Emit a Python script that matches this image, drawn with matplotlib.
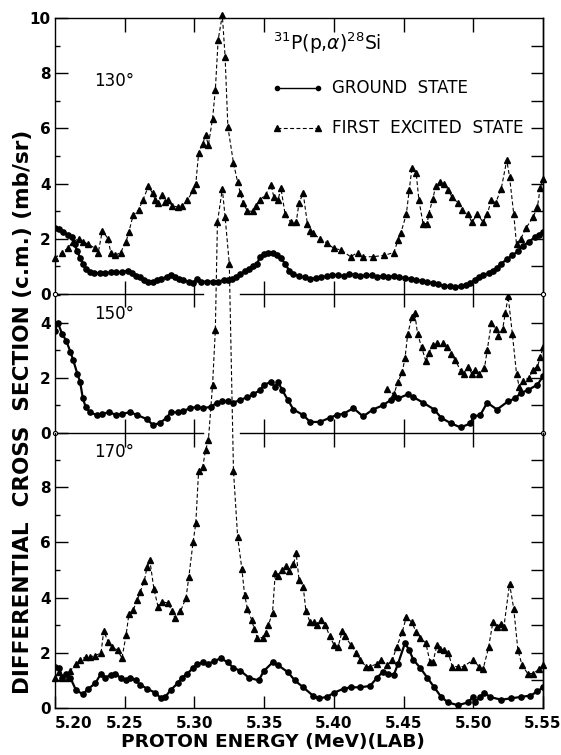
import matplotlib
matplotlib.use('Agg')
import matplotlib.pyplot as plt

# ---------------- data ----------------
# 130 deg
e130_gs = [5.200, 5.203, 5.206, 5.209, 5.212, 5.214, 5.216, 5.218, 5.220, 5.222, 5.225, 5.228, 5.232, 5.236,
           5.240, 5.244, 5.248, 5.252, 5.255, 5.258, 5.261, 5.264, 5.267, 5.270, 5.273, 5.276, 5.280, 5.283,
           5.286, 5.289, 5.292, 5.296, 5.299, 5.302, 5.305, 5.309, 5.313, 5.317, 5.321, 5.324, 5.327, 5.330,
           5.333, 5.336, 5.339, 5.342, 5.345, 5.347, 5.350, 5.353, 5.356, 5.359, 5.362, 5.365, 5.368, 5.371,
           5.375, 5.379, 5.383, 5.387, 5.391, 5.395, 5.399, 5.403, 5.407, 5.411, 5.415, 5.419, 5.423, 5.427,
           5.431, 5.435, 5.439, 5.443, 5.447, 5.451, 5.455, 5.459, 5.463, 5.467, 5.471, 5.475, 5.479, 5.483,
           5.487, 5.491, 5.495, 5.498, 5.501, 5.504, 5.507, 5.511, 5.514, 5.517, 5.520, 5.524, 5.528, 5.532,
           5.536, 5.540, 5.544, 5.547, 5.550]
s130_gs = [2.40, 2.35, 2.25, 2.15, 2.05, 1.80, 1.55, 1.30, 1.10, 0.90, 0.80, 0.75, 0.75, 0.75,
           0.78, 0.80, 0.78, 0.85, 0.75, 0.65, 0.60, 0.50, 0.45, 0.45, 0.50, 0.55, 0.62, 0.70,
           0.60, 0.55, 0.50, 0.45, 0.40, 0.55, 0.45, 0.45, 0.45, 0.45, 0.50, 0.50, 0.55, 0.62,
           0.72, 0.82, 0.92, 1.00, 1.10, 1.35, 1.45, 1.50, 1.50, 1.40, 1.30, 1.10, 0.85, 0.72,
           0.65, 0.60, 0.55, 0.57, 0.60, 0.65, 0.70, 0.68, 0.65, 0.72, 0.70, 0.65, 0.68, 0.68,
           0.62, 0.65, 0.62, 0.65, 0.60, 0.58, 0.55, 0.50, 0.48, 0.42, 0.40, 0.35, 0.30, 0.28,
           0.25, 0.28, 0.32, 0.40, 0.50, 0.60, 0.70, 0.75, 0.85, 0.95, 1.10, 1.25, 1.40, 1.55,
           1.75, 1.90, 2.05, 2.15, 2.25]

e130_ex = [5.200, 5.205, 5.209, 5.213, 5.217, 5.220, 5.224, 5.229, 5.231, 5.234, 5.238, 5.240, 5.243, 5.247,
           5.251, 5.253, 5.256, 5.260, 5.263, 5.267, 5.270, 5.272, 5.274, 5.277, 5.279, 5.281, 5.284, 5.288,
           5.291, 5.295, 5.299, 5.301, 5.303, 5.306, 5.308, 5.310, 5.313, 5.315, 5.317, 5.320, 5.322, 5.324,
           5.328, 5.331, 5.333, 5.335, 5.338, 5.342, 5.344, 5.347, 5.351, 5.355, 5.357, 5.360, 5.362, 5.365,
           5.369, 5.373, 5.375, 5.378, 5.381, 5.383, 5.385, 5.390, 5.395, 5.400, 5.405, 5.412, 5.417, 5.421,
           5.428, 5.436, 5.443, 5.446, 5.448, 5.452, 5.454, 5.456, 5.459, 5.461, 5.464, 5.467, 5.468, 5.471,
           5.473, 5.476, 5.479, 5.482, 5.485, 5.489, 5.492, 5.496, 5.499, 5.503, 5.507, 5.510, 5.513, 5.516,
           5.520, 5.524, 5.526, 5.529, 5.531, 5.534, 5.538, 5.543, 5.546, 5.548, 5.550]
s130_ex = [1.30, 1.50, 1.65, 1.90, 2.00, 1.90, 1.80, 1.65, 1.50, 2.30, 2.00, 1.50, 1.40, 1.50,
           1.90, 2.25, 2.85, 3.05, 3.40, 3.90, 3.65, 3.40, 3.30, 3.60, 3.35, 3.40, 3.20, 3.15,
           3.20, 3.40, 3.75, 4.00, 5.10, 5.45, 5.75, 5.40, 6.35, 7.40, 9.20, 10.10, 8.60, 6.05,
           4.75, 4.05, 3.65, 3.30, 3.00, 3.00, 3.20, 3.40, 3.60, 3.95, 3.50, 3.40, 3.85, 2.90,
           2.60, 2.60, 3.30, 3.65, 2.55, 2.30, 2.20, 2.00, 1.85, 1.65, 1.60, 1.35, 1.50, 1.35,
           1.35, 1.40, 1.50, 1.95, 2.20, 2.90, 3.75, 4.55, 4.40, 3.40, 2.55, 2.55, 2.90, 3.45,
           3.90, 4.05, 4.00, 3.75, 3.50, 3.30, 3.05, 2.90, 2.60, 2.90, 2.60, 2.90, 3.40, 3.30,
           3.80, 4.85, 4.25, 2.90, 1.80, 2.00, 2.40, 2.80, 3.15, 3.85, 4.15]

# 150 deg
e150_gs = [5.200, 5.202, 5.205, 5.208, 5.211, 5.213, 5.216, 5.218, 5.220, 5.222, 5.225, 5.230, 5.234, 5.239,
           5.244, 5.248, 5.254, 5.259, 5.266, 5.270, 5.275, 5.280, 5.283, 5.288, 5.292, 5.297, 5.302, 5.306,
           5.312, 5.316, 5.320, 5.324, 5.328, 5.333, 5.338, 5.342, 5.347, 5.350, 5.355, 5.358, 5.360, 5.363,
           5.367, 5.371, 5.378, 5.383, 5.390, 5.397, 5.402, 5.407, 5.414, 5.421, 5.428, 5.435, 5.441, 5.446,
           5.453, 5.457, 5.464, 5.472, 5.477, 5.484, 5.491, 5.498, 5.500, 5.505, 5.510, 5.517, 5.525, 5.530,
           5.534, 5.539, 5.546, 5.550]
s150_gs = [3.70, 4.00, 3.60, 3.35, 2.95, 2.65, 2.15, 1.85, 1.25, 0.95, 0.75, 0.65, 0.70, 0.75,
           0.65, 0.70, 0.75, 0.65, 0.50, 0.30, 0.35, 0.55, 0.75, 0.75, 0.80, 0.90, 0.95, 0.90,
           0.95, 1.10, 1.15, 1.15, 1.10, 1.20, 1.30, 1.40, 1.55, 1.75, 1.85, 1.65, 1.85, 1.55,
           1.20, 0.85, 0.65, 0.40, 0.40, 0.55, 0.65, 0.70, 0.90, 0.60, 0.85, 1.00, 1.20, 1.25,
           1.40, 1.30, 1.10, 0.85, 0.55, 0.35, 0.20, 0.35, 0.60, 0.65, 1.10, 0.85, 1.15, 1.25,
           1.45, 1.55, 1.75, 2.05]

e150_ex = [5.438, 5.443, 5.446, 5.449, 5.451, 5.453, 5.456, 5.458, 5.460, 5.463, 5.466, 5.468, 5.471, 5.474,
           5.478, 5.481, 5.484, 5.487, 5.491, 5.493, 5.496, 5.499, 5.501, 5.504, 5.508, 5.510, 5.513, 5.516,
           5.518, 5.521, 5.523, 5.525, 5.528, 5.531, 5.533, 5.536, 5.540, 5.543, 5.546, 5.548, 5.550]
s150_ex = [1.60, 1.40, 1.85, 2.20, 2.70, 3.60, 4.20, 4.35, 3.60, 3.10, 2.60, 2.90, 3.20, 3.25,
           3.25, 3.10, 2.85, 2.65, 2.25, 2.15, 2.40, 2.15, 2.30, 2.15, 2.35, 3.00, 4.00, 3.75,
           3.50, 3.75, 4.35, 4.95, 3.60, 2.15, 1.65, 1.90, 2.00, 2.30, 2.40, 2.75, 3.10]

# 170 deg
e170_gs = [5.200, 5.203, 5.205, 5.208, 5.211, 5.215, 5.220, 5.224, 5.229, 5.233, 5.236, 5.240, 5.243, 5.247,
           5.251, 5.254, 5.258, 5.261, 5.266, 5.272, 5.276, 5.279, 5.283, 5.288, 5.291, 5.295, 5.299, 5.302,
           5.306, 5.310, 5.314, 5.319, 5.324, 5.328, 5.333, 5.339, 5.346, 5.350, 5.356, 5.360, 5.367, 5.372,
           5.378, 5.385, 5.389, 5.395, 5.400, 5.407, 5.412, 5.419, 5.426, 5.431, 5.435, 5.439, 5.443, 5.446,
           5.451, 5.454, 5.457, 5.462, 5.467, 5.472, 5.477, 5.482, 5.489, 5.496, 5.500, 5.501, 5.505, 5.508,
           5.512, 5.520, 5.527, 5.534, 5.541, 5.546, 5.550]
s170_gs = [1.50, 1.45, 1.10, 1.25, 1.10, 0.65, 0.50, 0.70, 0.90, 1.25, 1.10, 1.20, 1.25, 1.10,
           1.00, 1.10, 1.00, 0.85, 0.70, 0.55, 0.35, 0.40, 0.65, 0.90, 1.10, 1.25, 1.45, 1.60,
           1.65, 1.60, 1.70, 1.80, 1.65, 1.45, 1.35, 1.10, 1.00, 1.35, 1.65, 1.55, 1.30, 1.00,
           0.75, 0.45, 0.35, 0.40, 0.55, 0.70, 0.75, 0.75, 0.80, 1.10, 1.30, 1.25, 1.20, 1.60,
           2.35, 2.10, 1.75, 1.45, 1.10, 0.75, 0.40, 0.20, 0.10, 0.20, 0.40, 0.20, 0.40, 0.55,
           0.40, 0.30, 0.35, 0.40, 0.45, 0.60, 0.75]

e170_ex = [5.200, 5.203, 5.205, 5.209, 5.211, 5.215, 5.218, 5.222, 5.225, 5.229, 5.233, 5.235, 5.238, 5.241,
           5.245, 5.248, 5.251, 5.253, 5.256, 5.259, 5.261, 5.264, 5.266, 5.268, 5.271, 5.274, 5.277, 5.281,
           5.284, 5.286, 5.290, 5.294, 5.296, 5.299, 5.301, 5.303, 5.306, 5.308, 5.310, 5.313, 5.315, 5.3165,
           5.320, 5.322, 5.325, 5.328, 5.331, 5.334, 5.336, 5.338, 5.341, 5.343, 5.345, 5.349, 5.351, 5.353,
           5.356, 5.358, 5.360, 5.363, 5.366, 5.368, 5.371, 5.373, 5.375, 5.378, 5.380, 5.383, 5.386, 5.388,
           5.391, 5.394, 5.397, 5.400, 5.403, 5.406, 5.408, 5.412, 5.416, 5.419, 5.423, 5.426, 5.431, 5.434,
           5.438, 5.442, 5.445, 5.449, 5.452, 5.456, 5.459, 5.462, 5.466, 5.469, 5.471, 5.474, 5.476, 5.479,
           5.482, 5.485, 5.489, 5.493, 5.500, 5.504, 5.507, 5.511, 5.514, 5.517, 5.520, 5.522, 5.526, 5.529,
           5.532, 5.535, 5.539, 5.543, 5.547, 5.550]
s170_ex = [1.10, 1.30, 1.10, 1.10, 1.35, 1.60, 1.75, 1.85, 1.85, 1.90, 2.00, 2.80, 2.40, 2.20,
           2.10, 1.80, 2.65, 3.40, 3.55, 3.90, 4.20, 4.60, 5.10, 5.35, 4.30, 3.65, 3.85, 3.80,
           3.50, 3.25, 3.50, 4.00, 4.75, 6.00, 6.70, 8.60, 8.75, 9.35, 9.70, 11.70, 13.70, 17.60,
           18.80, 17.80, 16.10, 8.60, 6.20, 5.05, 4.10, 3.60, 3.20, 2.85, 2.55, 2.55, 2.70, 3.00,
           3.45, 4.90, 4.80, 5.00, 5.15, 4.95, 5.20, 5.60, 4.65, 4.40, 3.50, 3.10, 3.10, 3.00,
           3.20, 3.00, 2.60, 2.30, 2.20, 2.80, 2.60, 2.30, 2.00, 1.75, 1.50, 1.50, 1.60, 1.75,
           1.55, 1.75, 2.20, 2.75, 3.30, 3.10, 2.75, 2.55, 2.35, 1.65, 1.65, 2.30, 2.15, 2.10,
           2.00, 1.50, 1.50, 1.50, 1.75, 1.50, 1.40, 2.20, 3.10, 2.95, 3.05, 2.95, 4.50, 3.60,
           2.10, 1.55, 1.25, 1.25, 1.40, 1.55]

xticks = [5.20, 5.25, 5.30, 5.35, 5.40, 5.45, 5.50, 5.55]
xtick_labels = ['5.20', '5.25', '5.30', '5.35', '5.40', '5.45', '5.50', '5.55']
angles = ['130°', '150°', '170°']

# ---------------- figure ----------------
plt.rcParams['font.family'] = ['DejaVu Sans']
plt.rcParams['mathtext.fontset'] = 'dejavusans'

W, H = 561, 755
fig = plt.figure(figsize=(W / 100, H / 100), dpi=100)
X0, X1 = 55, 543
Y_TOP, Y_B1, Y_B2, Y_BOT = 18, 294, 433, 708
PXU = 27.6  # pixels per mb/sr


def add(ytop, ybot):
    return fig.add_axes([X0 / W, 1 - ybot / H, (X1 - X0) / W, (ybot - ytop) / H])


ax_t = add(Y_TOP, Y_B1)
ax_m = add(Y_B1, Y_B2)
ax_b = add(Y_B2, Y_BOT)
axes = [ax_t, ax_m, ax_b]
ylims = [(0, (Y_B1 - Y_TOP) / PXU), (0, (Y_B2 - Y_B1) / PXU), (0, (Y_BOT - Y_B2) / PXU)]

gs_kw = dict(color='black', lw=1.6, marker='o', ms=3.8, mfc='black', mec='black')
ex_kw = dict(color='black', lw=0.8, ls=(0, (3.5, 2.2)), marker='^', ms=4.4, mfc='black', mec='black')

ax_t.plot(e130_gs, s130_gs, **gs_kw)
ax_t.plot(e130_ex, s130_ex, clip_on=False, **ex_kw)
ax_m.plot(e150_gs, s150_gs, **gs_kw)
ax_m.plot(e150_ex, s150_ex, **ex_kw)
ax_b.plot(e170_gs, s170_gs, **gs_kw)
ax_b.plot(e170_ex, s170_ex, clip_on=False, zorder=5, **ex_kw)

tickfont = dict(fontsize=11, fontweight='bold')
for i, (ax, yl) in enumerate(zip(axes, ylims)):
    ax.set_facecolor('none')
    ax.set_xlim(5.20, 5.55)
    ax.set_ylim(*yl)
    maj = [v for v in range(0, 11, 2) if v <= yl[1] + 0.01]
    mnr = [v for v in range(1, 11, 2) if v <= yl[1] + 0.01]
    ax.set_yticks(maj)
    ax.set_yticks(mnr, minor=True)
    ax.set_yticklabels([str(v) for v in maj], **tickfont)
    ax.tick_params(axis='y', which='major', direction='in', length=9.5, width=1.0, pad=3, left=True, right=False)
    ax.tick_params(axis='y', which='minor', direction='in', length=3.5, width=1.0, left=True, right=False)
    # right side ticks every unit
    sec = ax.secondary_yaxis('right')
    sec.set_yticks([v for v in range(0, 11) if 0 < v < yl[1] - 0.05])
    sec.tick_params(direction='in', length=8.5, width=1.0, labelright=False)
    sec.spines['right'].set_linewidth(1.0)
    for s in ax.spines.values():
        s.set_linewidth(1.0)
    ax.set_xticks(xticks[1:-1])
    ax.tick_params(axis='x', labelbottom=False, bottom=False, top=False)
    ax.text(0.080, {0: 0.770, 1: 0.855, 2: 0.930}[i], angles[i], transform=ax.transAxes,
            fontsize=12, ha='left', va='center')

# top panel: ticks on top
ax_t.tick_params(axis='x', top=True, direction='in', length=10, width=1.0)
ax_t.spines['bottom'].set_visible(False)
# middle panel: crossing ticks on its top border
ax_m.spines['top'].set_visible(False)
ax_m.spines['bottom'].set_visible(False)
ax_m.tick_params(axis='x', top=True, direction='inout', length=19, width=1.0)
# bottom panel
ax_b.spines['top'].set_visible(False)
ax_b.set_xticks(xticks)
ax_b.set_xticklabels(xtick_labels, fontsize=11, fontweight='bold')
ax_b.tick_params(axis='x', bottom=True, labelbottom=True, direction='in', length=8.5, width=1.0, pad=6)
lbls = ax_b.get_xticklabels()
lbls[0].set_ha('left')
topsec = ax_b.secondary_xaxis('top')
topsec.set_xticks(xticks[1:-1])
topsec.tick_params(direction='inout', length=20, width=1.0, labeltop=False)
topsec.spines['top'].set_visible(False)

# boundary lines with a gap where the 170 deg peak passes
tr = ax_m.get_xaxis_transform()
for yy in (0.0, 1.0):
    ax_m.plot([5.20, 5.3058], [yy, yy], color='black', lw=1.0, transform=tr, clip_on=False)
    ax_m.plot([5.3330, 5.55], [yy, yy], color='black', lw=1.0, transform=tr, clip_on=False)
    ax_m.plot([5.20, 5.55], [yy, yy], ls='none', marker='o', ms=3, mfc='white', mec='black',
              mew=0.8, transform=tr, clip_on=False, zorder=6)

# title and legend in the top panel
ax_t.text(0.447, 0.907, r'$^{31}$P(p,$\alpha$)$^{28}$Si', transform=ax_t.transAxes,
          fontsize=13.5, ha='left', va='center')
ax_t.plot([0.455, 0.539], [0.746, 0.746], color='black', lw=1.0, marker='o', ms=3,
          transform=ax_t.transAxes)
ax_t.plot([0.455, 0.539], [0.601, 0.601], color='black', lw=0.8, ls=(0, (3.5, 2.2)), marker='^', ms=4,
          transform=ax_t.transAxes)
ax_t.text(0.568, 0.746, 'GROUND  STATE', transform=ax_t.transAxes, fontsize=12, ha='left', va='center')
ax_t.text(0.568, 0.601, 'FIRST  EXCITED  STATE', transform=ax_t.transAxes, fontsize=12.2,
          ha='left', va='center')

# axis labels
fig.text(23 / W, 1 - 412 / H, 'DIFFERENTIAL  CROSS  SECTION (c.m.) (mb/sr)', rotation=90,
         ha='center', va='center', fontsize=15.5, fontweight='bold')
fig.text(273 / W, 1 - 742 / H, 'PROTON ENERGY (MeV)(LAB)', ha='center', va='center',
         fontsize=13.3, fontweight='bold')

fig.savefig('out.png', dpi=100)
